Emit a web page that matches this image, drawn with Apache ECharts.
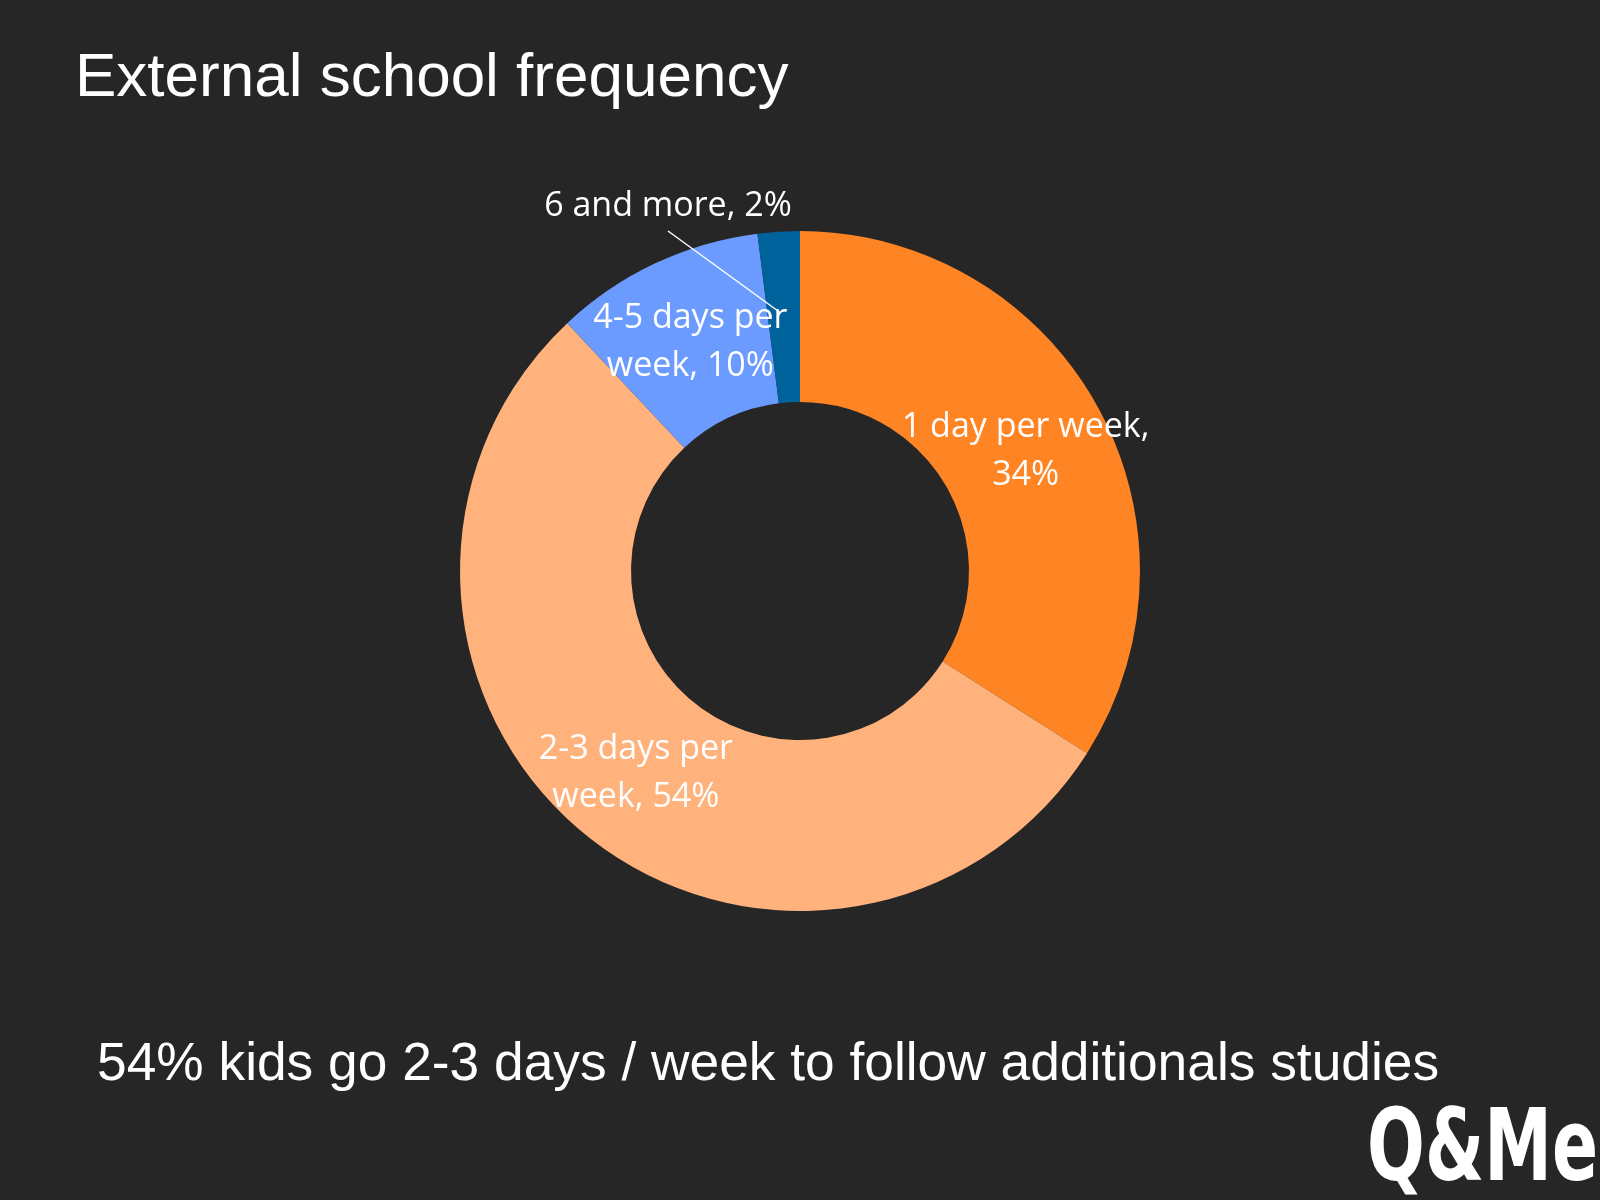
<!DOCTYPE html>
<html>
<head>
<meta charset="utf-8">
<script src="https://cdn.jsdelivr.net/npm/echarts@6/dist/echarts.min.js"></script>
<style>
html,body{margin:0;padding:0;background:#262626;}
#chart{width:1600px;height:1200px;}
</style>
</head>
<body>
<div id="chart"></div>
<script>
const titleText = 'External school frequency';
const subtitleText = '54% kids go 2-3 days / week to follow additionals studies';
const categories = ['1 day per week', '2-3 days per week', '4-5 days per week', '6 and more'];
const labelTexts = ['1 day per week,\n34%', '2-3 days per\nweek, 54%', '4-5 days per\nweek, 10%', '6 and more, 2%'];
const values = [34, 54, 10, 2];
const colors = ['#FF8424', '#FFB27B', '#6B9BFF', '#00629B'];

const cx = 800, cy = 571, rIn = 169, rOut = 340;
const chart = echarts.init(document.getElementById('chart'));

const total = values.reduce((a, b) => a + b, 0);
function midAngle(i) {
  let s = 0;
  for (let k = 0; k < i; k++) s += values[k];
  return ((s + values[i] / 2) / total) * Math.PI * 2;
}

// leader line for the small slice: from slice middle to under its label
const a3 = midAngle(3);
const rm = (rIn + rOut) / 2 + 4;
const sx = cx + rm * Math.sin(a3) - 3, sy = cy - rm * Math.cos(a3);
const lx = cx - 132, ly = cy - 365;

const data = categories.map((c, i) => ({ name: c, value: values[i], itemStyle: { color: colors[i] } }));

chart.setOption({
  backgroundColor: '#262626',
  animation: false,
  graphic: [
    { type: 'text', left: 75, top: 48, style: { text: titleText, fill: '#ffffff', font: '62px "Liberation Sans", Arial, sans-serif' } },
    { type: 'text', left: 97, top: 1039, style: { text: subtitleText, fill: '#ffffff', font: '53.3px "Liberation Sans", Arial, sans-serif' } },
    { type: 'text', x: 1598, y: 1154, scaleX: 0.68, scaleY: 1.0, z: 100,
      style: { text: 'Q&Me', fill: '#ffffff', font: '900 100px "DejaVu Sans", sans-serif', letterSpacing: -8, align: 'right', verticalAlign: 'middle' } },
    { type: 'polyline', z: 100, shape: { points: [[lx, ly + 25], [sx, sy]] }, style: { stroke: '#ffffff', lineWidth: 1.5, fill: null } }
  ],
  series: [{
    type: 'pie',
    center: [cx, cy],
    radius: [rIn, rOut],
    startAngle: 90,
    clockwise: true,
    avoidLabelOverlap: false,
    data: data,
    label: {
      show: true,
      position: 'inside',
      offset: [0, 4],
      formatter: p => labelTexts[p.dataIndex],
      color: '#ffffff',
      fontFamily: '"Open Sans", sans-serif',
      fontSize: 34,
      lineHeight: 48,
      align: 'center'
    },
    labelLine: { show: false },
    labelLayout: function (p) {
      if (p.dataIndex !== 3) return {};
      return { x: lx, y: ly, align: 'center', verticalAlign: 'middle' };
    }
  }]
});
</script>
</body>
</html>
